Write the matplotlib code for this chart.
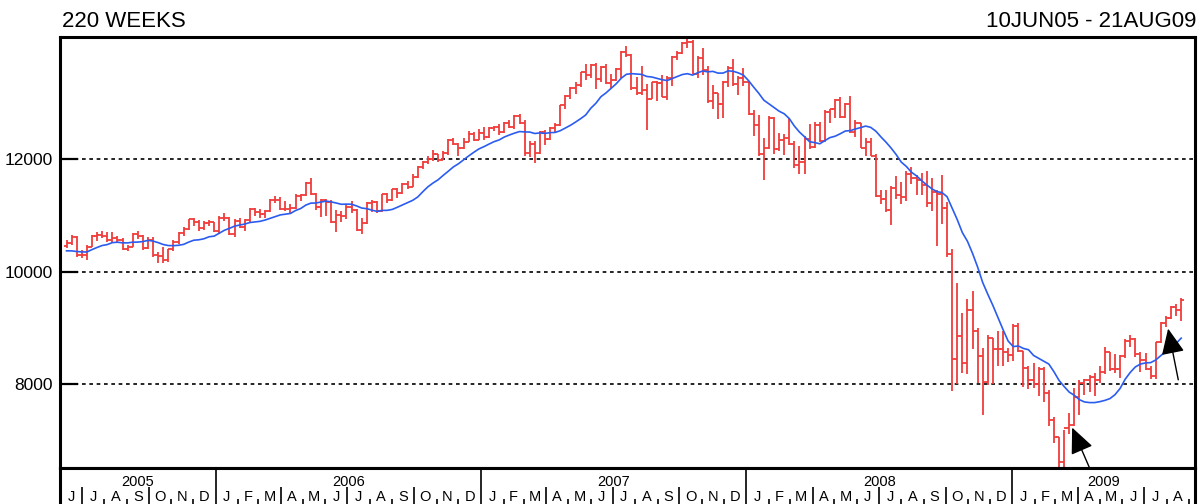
import numpy as np
import pandas as pd
import matplotlib
matplotlib.use('Agg')
import matplotlib.pyplot as plt
import matplotlib.dates as mdates

plt.rcParams['font.family'] = ['Liberation Sans', 'DejaVu Sans']

# weekly bars, 10 Jun 2005 .. 21 Aug 2009 (220 weeks)
close = [
    # 2005
    10512, 10623, 10297, 10303, 10449, 10640, 10651, 10641, 10559, 10600, 10559, 10397, 10447, 10679, 10641,
    10420, 10569, 10292, 10287, 10215, 10403, 10530, 10687, 10766, 10931, 10878, 10779, 10876, 10883, 10718,
    # 2006
    10959, 10960, 10667, 10907, 10793, 10919, 11115, 11061, 11022, 11076, 11279, 11280, 11109,
    11120, 11137, 11347, 11367, 11578, 11380, 11144, 11278, 11247, 10891, 11015, 10989, 11150,
    11090, 10739, 10868, 11219, 11240, 11088, 11381, 11284, 11464, 11392, 11560, 11508, 11679,
    11867, 11960, 12002, 12090, 11986, 12108, 12342, 12280, 12194, 12307, 12445, 12343, 12463,
    # 2007
    12398, 12556, 12566, 12487, 12653, 12581, 12768, 12647, 12114, 12276, 12110, 12481, 12354,
    12560, 12612, 12962, 13120, 13265, 13327, 13556, 13507, 13668, 13424, 13639, 13360, 13409,
    13611, 13908, 13851, 13265, 13182, 13240, 13079, 13379, 13358, 13113, 13442, 13821, 13896,
    14066, 14093, 13522, 13807, 13596, 13043, 13177, 12980, 13372, 13626, 13340, 13451, 13366,
    # 2008
    12800, 12606, 12099, 12207, 12743, 12182, 12348, 12381, 12266, 11894, 11951, 12361, 12216,
    12609, 12325, 12849, 12891, 13058, 12746, 12986, 12480, 12638, 12209, 12308, 12063, 11347,
    11288, 11100, 11496, 11370, 11326, 11734, 11659, 11628, 11543, 11220, 11421, 11388, 11143,
    10325, 8451, 8852, 8378, 9325, 8943, 8497, 8046, 8829, 8635, 8629, 8579, 8515,
    # 2009
    9034, 8599, 8281, 8077, 8000, 8280, 7850, 7366, 7063, 6627, 7224, 7279, 7776,
    8018, 8083, 8131, 8076, 8212, 8575, 8268, 8277, 8500, 8764, 8799, 8540, 8438,
    8280, 8146, 8744, 9093, 9172, 9370, 9321, 9505,
]
high = [
    10560, 10650, 10640, 10380, 10470, 10660, 10700, 10720, 10710, 10700, 10640, 10600, 10480, 10690, 10720,
    10660, 10610, 10610, 10350, 10440, 10410, 10560, 10700, 10790, 10940, 10950, 10920, 10900, 10920, 10890,
    10990, 11050, 10980, 10930, 10960, 10940, 11130, 11140, 11110, 11090, 11290, 11340, 11330,
    11250, 11200, 11390, 11390, 11600, 11670, 11400, 11300, 11300, 11270, 11090, 11080, 11200,
    11260, 11120, 10950, 11240, 11280, 11260, 11390, 11400, 11480, 11490, 11570, 11620, 11730,
    11880, 11970, 12050, 12170, 12100, 12140, 12360, 12380, 12290, 12370, 12510, 12480, 12530,
    12580, 12570, 12600, 12630, 12670, 12700, 12780, 12800, 12690, 12330, 12330, 12500, 12520,
    12570, 12640, 12970, 13140, 13290, 13370, 13560, 13690, 13690, 13710, 13660, 13700, 13510,
    13630, 13920, 14020, 13880, 13470, 13660, 13340, 13380, 13400, 13490, 13480, 13830, 13930,
    14080, 14200, 14120, 13830, 13980, 13650, 13320, 13180, 13400, 13650, 13780, 13480, 13630,
    13370, 12880, 12780, 12380, 12770, 12750, 12460, 12450, 12740, 12320, 12230, 12420, 12620,
    12660, 12670, 12870, 12900, 13070, 13100, 13000, 13130, 12690, 12650, 12380, 12370, 12100,
    11460, 11460, 11520, 11700, 11590, 11800, 11870, 11720, 11750, 11790, 11660, 11450, 11720,
    11240, 10400, 9800, 9270, 9510, 9650, 9000, 8650, 8880, 8830, 8940, 8950, 8640,
    9080, 9090, 8600, 8330, 8380, 8310, 8310, 7900, 7420, 7070, 7190, 7490, 7930,
    8070, 8100, 8170, 8200, 8320, 8670, 8580, 8530, 8520, 8800, 8880, 8830, 8570,
    8560, 8320, 8750, 9100, 9220, 9400, 9430, 9530,
]
low = [
    10420, 10480, 10270, 10240, 10210, 10440, 10550, 10600, 10530, 10520, 10520, 10390, 10370, 10440, 10580,
    10390, 10400, 10260, 10160, 10160, 10180, 10370, 10500, 10640, 10740, 10810, 10730, 10740, 10810, 10700,
    10680, 10900, 10650, 10620, 10770, 10720, 10880, 10990, 10960, 10950, 11060, 11220, 11100,
    11080, 11050, 11110, 11250, 11350, 11370, 11100, 10980, 10990, 10860, 10700, 10880, 10930,
    11050, 10730, 10680, 10850, 11060, 11040, 11070, 11230, 11260, 11310, 11380, 11470, 11500,
    11660, 11820, 11910, 11970, 11950, 11980, 12080, 12260, 12050, 12190, 12300, 12320, 12340,
    12340, 12370, 12510, 12440, 12470, 12560, 12540, 12620, 12060, 12040, 11940, 12090, 12260,
    12350, 12480, 12600, 12900, 13080, 13160, 13280, 13410, 13450, 13250, 13380, 13340, 13260,
    13400, 13440, 13820, 13240, 13140, 13140, 12520, 13070, 13030, 13100, 13060, 13300, 13760,
    13880, 13980, 13510, 13450, 13490, 13000, 12900, 12720, 12740, 13290, 13300, 13150, 13300,
    12790, 12420, 12050, 11630, 12180, 12100, 12140, 12080, 12250, 11850, 11730, 11730, 12180,
    12200, 12300, 12300, 12640, 12740, 12740, 12730, 12470, 12400, 12200, 12060, 12050, 11330,
    11200, 11060, 10830, 11290, 11200, 11260, 11560, 11360, 11360, 11150, 11080, 10460, 10850,
    10260, 7880, 8000, 8200, 8180, 8630, 8030, 7450, 7990, 8000, 8330, 8330, 8400,
    8420, 8570, 7950, 7910, 7930, 7800, 7680, 7250, 6950, 6470, 6470, 7110, 7250,
    7450, 7810, 7870, 7800, 8030, 8190, 8230, 8200, 8120, 8460, 8670, 8480, 8220,
    8260, 8090, 8100, 8740, 9020, 9160, 9220, 9120,
]
open_ = [
    10460, 10512, 10623, 10297, 10303, 10449, 10640, 10651, 10641, 10559, 10600, 10559, 10397, 10447, 10679,
    10641, 10420, 10569, 10292, 10287, 10215, 10403, 10530, 10687, 10766, 10931, 10878, 10779, 10876, 10883,
    10718, 10959, 10960, 10667, 10907, 10793, 10919, 11115, 11061, 11022, 11076, 11279, 11280,
    11109, 11120, 11137, 11347, 11367, 11578, 11380, 11144, 11278, 11247, 10891, 11015, 10989,
    11150, 11090, 10739, 10868, 11219, 11240, 11088, 11381, 11284, 11464, 11392, 11560, 11508,
    11679, 11867, 11960, 12002, 12090, 11986, 12108, 12342, 12280, 12194, 12307, 12445, 12343,
    12463, 12398, 12556, 12566, 12487, 12653, 12581, 12768, 12647, 12114, 12276, 12110, 12481,
    12354, 12560, 12612, 12962, 13120, 13265, 13327, 13556, 13507, 13668, 13424, 13639, 13360,
    13409, 13611, 13908, 13851, 13265, 13182, 13240, 13079, 13379, 13358, 13113, 13442, 13821,
    13896, 14066, 14093, 13522, 13807, 13596, 13043, 13177, 12980, 13372, 13626, 13340, 13451,
    13366, 12800, 12606, 12099, 12207, 12743, 12182, 12348, 12381, 12266, 11894, 11951, 12361,
    12216, 12609, 12325, 12849, 12891, 13058, 12746, 12986, 12480, 12638, 12209, 12308, 12063,
    11347, 11288, 11100, 11496, 11370, 11326, 11734, 11659, 11628, 11543, 11220, 11421, 11388,
    11143, 10325, 8451, 8852, 8378, 9325, 8943, 8497, 8046, 8829, 8635, 8629, 8579,
    8515, 9034, 8599, 8281, 8077, 8000, 8280, 7850, 7366, 7063, 6627, 7224, 7279,
    7776, 8018, 8083, 8131, 8076, 8212, 8575, 8268, 8277, 8500, 8764, 8799, 8540,
    8438, 8280, 8146, 8744, 9093, 9172, 9370, 9321,
]
# closes of the 12 weeks before the window, only used to start the average
prior_close = [10629, 10442, 10404, 10461, 10087, 10157, 10192, 10346, 10140, 10471, 10542, 10460]

yticks = [8000, 10000, 12000]
month_letters = ['J', 'F', 'M', 'A', 'M', 'J', 'J', 'A', 'S', 'O', 'N', 'D']

weeks = pd.date_range('2005-06-10', periods=len(close), freq='W-FRI')
x = mdates.date2num(weeks)
ma = pd.Series(prior_close + close).rolling(13).mean().to_numpy()[len(prior_close):]

W, H = 1201, 504
fig = plt.figure(figsize=(W / 100, H / 100), dpi=100)
ax = fig.add_axes([60 / W, 1 - 468 / H, 1135 / W, (468 - 36.5) / H])

x0 = mdates.date2num(pd.Timestamp('2005-06-01'))
x1 = mdates.date2num(pd.Timestamp('2009-09-09'))
ax.set_xlim(x0, x1)
ax.set_ylim(6512, 14183)

red = '#f03c3c'
ax.vlines(x, low, high, colors=red, lw=1.3)
ax.hlines(open_, x - 3.6, x, colors=red, lw=1.3)
ax.hlines(close, x, x + 3.6, colors=red, lw=1.3)
ax.plot(x, ma, color='#2a5cf0', lw=1.2)

ax.set_yticks(yticks)
ax.set_yticklabels([str(v) for v in yticks], fontsize=12.5)
ax.set_xticks([])
ax.tick_params(axis='y', direction='in', length=13, width=1.6, pad=5)
ax.yaxis.grid(True, color='black', lw=1.2, linestyle=(0, (2.2, 2.2)))
for s in ax.spines.values():
    s.set_linewidth(2.2)

# arrows
arr = dict(arrowstyle='-|>,head_length=1.0,head_width=0.45', color='black', lw=1.0,
           mutation_scale=16, shrinkA=0, shrinkB=0)
ax.annotate('', xy=(mdates.date2num(pd.Timestamp('2009-03-24')), 7230),
            xytext=(mdates.date2num(pd.Timestamp('2009-04-17')), 6512),
            arrowprops=arr, annotation_clip=False)
ax.annotate('', xy=(mdates.date2num(pd.Timestamp('2009-08-03')), 8990),
            xytext=(mdates.date2num(pd.Timestamp('2009-08-17')), 8080),
            arrowprops=arr, annotation_clip=False)

fig.text(62 / W, 1 - 21.5 / H, '220 WEEKS', fontsize=16, va='center', ha='left')
fig.text(1196 / W, 1 - 21.5 / H, '10JUN05 - 21AUG09', fontsize=16, va='center', ha='right')

# time axis panel
ax2 = fig.add_axes([60 / W, 0, 1135 / W, 36 / H])
ax2.set_xlim(x0, x1)
ax2.set_ylim(0, 36)
ax2.set_xticks([])
ax2.set_yticks([])
ax2.spines['bottom'].set_visible(False)
for s in ['left', 'right', 'top']:
    ax2.spines[s].set_linewidth(2.2)

months = pd.date_range('2005-06-01', '2009-10-01', freq='MS')
for i in range(len(months) - 1):
    m = months[i]
    a = mdates.date2num(m)
    b = mdates.date2num(months[i + 1])
    if a > x0:
        if m.month == 1:
            ax2.vlines(a, 0, 36, colors='black', lw=1.2)
        elif m.month in (4, 7, 10):
            ax2.vlines(a, 0, 17, colors='black', lw=1.2)
        else:
            ax2.vlines(a, 0, 5, colors='black', lw=1.2)
    lo, hi = max(a, x0), min(b, x1)
    if hi - lo > 15:
        ax2.text((lo + hi) / 2, 7, month_letters[m.month - 1], ha='center', va='center', fontsize=10.5)

for yr in range(2005, 2010):
    a = max(mdates.date2num(pd.Timestamp(f'{yr}-01-01')), x0)
    b = min(mdates.date2num(pd.Timestamp(f'{yr + 1}-01-01')), x1)
    ax2.text((a + b) / 2, 22, str(yr), ha='center', va='center', fontsize=10.5)

fig.savefig('out.png', dpi=100)
